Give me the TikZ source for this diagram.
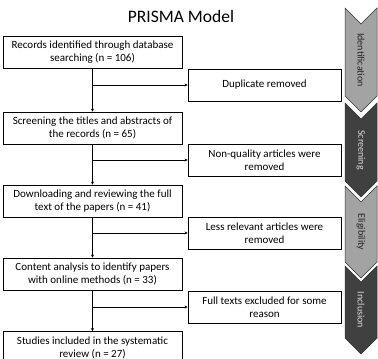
\documentclass[tikz,border=0pt]{standalone}
\usepackage{fontspec}
\setmainfont{Carlito}
\usetikzlibrary{arrows.meta}
\definecolor{chevlight}{HTML}{A3A3A3}
\definecolor{chevdark}{HTML}{404040}
\tikzset{
  stagebox/.style={draw=black, line width=0.8pt, align=center, inner sep=0pt, minimum height=32pt, font=\fontsize{11}{13}\selectfont},
  mainbox/.style={stagebox, minimum width=179pt},
  outbox/.style={stagebox, minimum width=153pt},
  flow/.style={line width=0.8pt, -{Stealth[length=3pt,width=3pt]}}
}
\begin{document}
\begin{tikzpicture}[x=1pt,y=-1pt]
    \useasboundingbox (0,0) rectangle (378,359);
    \clip (0,0) rectangle (378,359);
    \node[font=\fontsize{17.5}{20}\selectfont] (title) at (181,16) {PRISMA Model};
    % stage chevrons
    \foreach \t/\b/\f/\c/\lbl in {8/96/chevlight/black!85/Identification,103/181/chevdark/gray!30!white/Screening,186/262/chevlight/black!85/Eligibility,266/338/chevdark/gray!30!white/Inclusion}
    {
        \filldraw[fill=\f,draw=gray!40!black,line width=0.5pt] (345,\t) -- (361,\t+16) -- (377,\t) -- (377,\b) -- (361,\b+16) -- (345,\b) -- cycle;
        \node[rotate=-90,text=\c,font=\fontsize{10}{12}\selectfont] (stage-\lbl) at (361,{(\t+\b)/2+8}) {\lbl};
    }
    % flow boxes
    \node[mainbox] (records) at (92.5,52) {Records identified through database\\searching (n = 106)};
    \node[mainbox] (screen) at (92.5,128) {Screening the titles and abstracts of\\the records (n = 65)};
    \node[mainbox] (fulltext) at (92.5,201) {Downloading and reviewing the full\\text of the papers (n = 41)};
    \node[mainbox] (content) at (92.5,274) {Content analysis to identify papers\\with online methods (n = 33)};
    \node[mainbox] (included) at (92.5,347.5) {Studies included in the systematic\\review (n = 27)};
    \node[outbox] (dup) at (264.5,85) {Duplicate removed};
    \node[outbox] (quality) at (264.5,160) {Non-quality articles were\\removed};
    \node[outbox] (relevant) at (264.5,233) {Less relevant articles were\\removed};
    \node[outbox] (excluded) at (264.5,307) {Full texts excluded for some\\reason};
    \foreach \a/\b/\r in {records/screen/dup,screen/fulltext/quality,fulltext/content/relevant,content/included/excluded}
    {
        \draw[flow] (\a.south) -- (\b.north);
        \draw[flow] (\a.south |- \r.west) -- (\r.west);
    }
\end{tikzpicture}
\end{document}
